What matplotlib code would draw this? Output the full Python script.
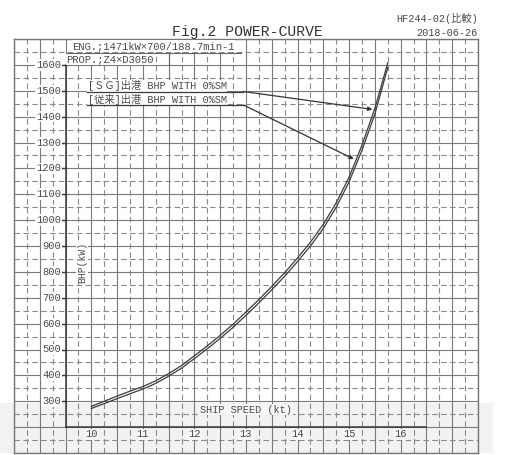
import matplotlib.pyplot as plt
from matplotlib.patches import Rectangle

# ship speed (kt) and brake power (kW)
speed = [10.0, 10.25, 10.5, 10.75, 11.0, 11.25, 11.5, 11.75, 12.0, 12.25, 12.5, 12.75,
         13.0, 13.25, 13.5, 13.75, 14.0, 14.25, 14.5, 14.75, 15.0, 15.25, 15.5, 15.75]
bhp_sg = [272, 291, 310, 329, 347, 369, 397, 428, 465, 503, 543, 586,
          632, 680, 731, 783, 840, 900, 968, 1050, 1148, 1270, 1410, 1590]
bhp_old = [280, 300, 320, 339, 357, 379, 407, 438, 476, 514, 555, 598,
           645, 693, 744, 797, 854, 915, 984, 1067, 1166, 1290, 1432, 1608]

yticks = list(range(300, 1700, 100))
xticks = list(range(10, 17))
label_sg = '[ＳＧ]出港 BHP WITH 0%SM'
label_old = '[従来]出港 BHP WITH 0%SM'

MONO = ['Liberation Mono', 'Noto Sans CJK JP']
TXT = '#4a4a4a'

fig = plt.figure(figsize=(5.19, 4.55), dpi=100)
fig.patch.set_facecolor('white')

# scan shading band near the bottom
fig.add_artist(Rectangle((0, 2 / 455), 493 / 519, 50 / 455, transform=fig.transFigure,
                         facecolor='#f2f2f2', edgecolor='none', zorder=0))

ax = fig.add_axes([14 / 519, 2 / 455, 464 / 519, 414 / 455])
ax.set_facecolor('none')
ax.set_xlim(8.5, 17.5)
ax.set_ylim(100, 1700)
ax.set_xticks([])
ax.set_yticks([])
for s in ax.spines.values():
    s.set_color('#777777')
    s.set_linewidth(1.0)

# graph paper
x = 8.5
while x <= 17.5:
    if abs(x * 2 - round(x * 2)) < 1e-6:
        ax.axvline(x, color='#7a7a7a', lw=0.8, zorder=1)
    else:
        ax.axvline(x, color='#8a8a8a', lw=0.8, ls=(0, (5, 3)), zorder=1)
    x += 0.25
for y in range(100, 1701, 50):
    if y % 100 == 0:
        ax.axhline(y, color='#7a7a7a', lw=0.8, zorder=1)
    else:
        ax.axhline(y, color='#8a8a8a', lw=0.8, ls=(0, (5, 3)), zorder=1)

# drawn axes
ax.plot([9.5, 9.5], [200, 1600], color='#3a3a3a', lw=1.1, zorder=3)
ax.plot([9.5, 16.5], [200, 200], color='#3a3a3a', lw=1.1, zorder=3)
for v in yticks:
    ax.plot([9.42, 9.5], [v, v], color='#3a3a3a', lw=1.0, zorder=3)
    ax.text(9.41, v, str(v), ha='right', va='center', fontsize=7.5, family=MONO,
            color=TXT, zorder=4,
            bbox=dict(facecolor='white', edgecolor='none', pad=0.6))
for v in xticks:
    ax.text(v, 172, str(v), ha='center', va='center', fontsize=7.5, family=MONO,
            color=TXT, zorder=4,
            bbox=dict(facecolor='#f6f6f6', edgecolor='none', pad=0.6))

ax.text(9.82, 838, 'BHP(kW)', rotation=90, ha='center', va='center', fontsize=7,
        family=MONO, color=TXT, zorder=4,
        bbox=dict(facecolor='white', edgecolor='none', pad=0.6))
ax.text(13.0, 268, 'SHIP SPEED (kt)', ha='center', va='center', fontsize=7.4,
        family=MONO, color=TXT, zorder=4,
        bbox=dict(facecolor='#f6f6f6', edgecolor='none', pad=0.6))

# power curves
ax.plot(speed, bhp_sg, color='#3c3c3c', lw=0.9, zorder=5)
ax.plot(speed, bhp_old, color='#3c3c3c', lw=0.9, zorder=5)

# labels with leader lines
ax.text(9.93, 1520, label_sg, ha='left', va='center', fontsize=7.4, family=MONO,
        color=TXT, zorder=4, bbox=dict(facecolor='white', edgecolor='none', pad=0.4))
ax.text(9.93, 1468, label_old, ha='left', va='center', fontsize=7.4, family=MONO,
        color=TXT, zorder=4, bbox=dict(facecolor='white', edgecolor='none', pad=0.4))
ax.plot([9.92, 12.95], [1497, 1497], color='#3a3a3a', lw=0.9, zorder=4)
ax.plot([9.92, 12.95], [1445, 1445], color='#3a3a3a', lw=0.9, zorder=4)
ax.annotate('', xy=(15.45, 1428), xytext=(12.95, 1497), zorder=6,
            arrowprops=dict(arrowstyle='-|>', color='#333333', lw=0.9,
                            mutation_scale=6, shrinkA=0, shrinkB=0))
ax.annotate('', xy=(15.09, 1236), xytext=(12.95, 1445), zorder=6,
            arrowprops=dict(arrowstyle='-|>', color='#333333', lw=0.9,
                            mutation_scale=6, shrinkA=0, shrinkB=0))

# engine / propeller note
ax.text(9.63, 1673, 'ENG.;1471kW×700/188.7min-1', ha='left', va='center', fontsize=7.6,
        family=MONO, color=TXT, zorder=4,
        bbox=dict(facecolor='white', edgecolor='none', pad=0.5))
ax.text(9.52, 1622, 'PROP.;Z4×D3050', ha='left', va='center', fontsize=7.6,
        family=MONO, color=TXT, zorder=4,
        bbox=dict(facecolor='white', edgecolor='none', pad=0.5))
ax.plot([9.5, 12.9], [1645, 1645], color='#666666', lw=0.8, zorder=4)
ax.plot([11.5, 11.5], [1645, 1600], color='#666666', lw=0.8, zorder=4)

fig.text(247 / 519, 1 - 32 / 455, 'Fig.2 POWER-CURVE', ha='center', va='center',
         fontsize=10.6, family=MONO, color='#333333')
fig.text(478 / 519, 1 - 18 / 455, 'HF244-02(比較)', ha='right', va='center',
         fontsize=7.4, family=MONO, color=TXT)
fig.text(478 / 519, 1 - 33 / 455, '2018-06-26', ha='right', va='center',
         fontsize=7.4, family=MONO, color=TXT)

fig.savefig('out.png', dpi=100)
